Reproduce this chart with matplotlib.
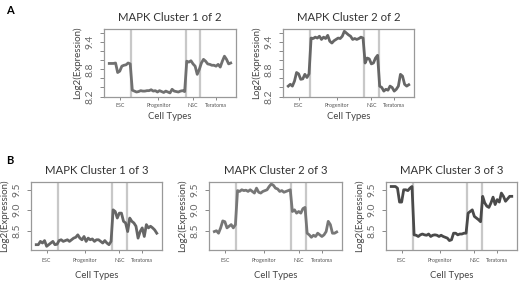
import matplotlib
matplotlib.use("Agg")
import matplotlib.pyplot as plt
import numpy as np

plt.rcParams['font.family'] = ['Lato', 'DejaVu Sans']

groups = ["ESC", "Progenitor", "NSC", "Teratoma"]
group_sizes = [11, 26, 7, 15]

a1 = [8.93, 8.93, 8.93, 8.94, 8.73, 8.76, 8.87, 8.89, 8.90, 8.94, 8.92,
      8.34, 8.32, 8.30, 8.31, 8.33, 8.32, 8.32, 8.33, 8.33, 8.35, 8.32, 8.33, 8.30,
      8.33, 8.31, 8.29, 8.32, 8.30, 8.28, 8.36, 8.32, 8.31, 8.30, 8.32, 8.33, 8.31,
      8.98, 8.96, 8.99, 8.92, 8.87, 8.69, 8.80,
      8.94, 9.02, 8.98, 8.92, 8.91, 8.89, 8.89, 8.87, 8.91, 8.85, 8.98, 9.09, 9.02, 8.92, 8.94]
a2 = [8.43, 8.47, 8.43, 8.54, 8.73, 8.70, 8.58, 8.59, 8.69, 8.62, 8.70,
      9.49, 9.48, 9.51, 9.49, 9.53, 9.46, 9.51, 9.48, 9.55, 9.42, 9.38, 9.43, 9.46,
      9.49, 9.48, 9.53, 9.64, 9.60, 9.56, 9.53, 9.46, 9.48, 9.46, 9.48, 9.51, 9.49,
      8.94, 9.05, 9.03, 8.92, 8.94, 9.05, 9.11,
      8.43, 8.40, 8.32, 8.36, 8.34, 8.43, 8.40, 8.32, 8.36, 8.43, 8.69, 8.65, 8.47, 8.43, 8.46]
b1 = [8.16, 8.16, 8.24, 8.20, 8.26, 8.12, 8.16, 8.20, 8.24, 8.16, 8.17,
      8.26, 8.28, 8.24, 8.26, 8.28, 8.24, 8.28, 8.32, 8.34, 8.40, 8.32, 8.28, 8.36,
      8.24, 8.32, 8.28, 8.30, 8.24, 8.28, 8.28, 8.24, 8.20, 8.26, 8.20, 8.16, 8.24,
      9.01, 8.97, 8.81, 8.93, 8.93, 8.73, 8.69,
      8.48, 8.81, 8.73, 8.69, 8.61, 8.32, 8.48, 8.57, 8.36, 8.65, 8.57, 8.61, 8.57, 8.52, 8.44]
b2 = [8.48, 8.50, 8.44, 8.57, 8.74, 8.72, 8.57, 8.61, 8.65, 8.57, 8.65,
      9.48, 9.46, 9.50, 9.48, 9.49, 9.46, 9.50, 9.46, 9.42, 9.54, 9.44, 9.42, 9.46,
      9.48, 9.50, 9.58, 9.64, 9.61, 9.54, 9.52, 9.46, 9.48, 9.44, 9.46, 9.48, 9.50,
      8.97, 9.01, 8.93, 8.97, 8.93, 9.04, 9.07,
      8.44, 8.40, 8.34, 8.39, 8.36, 8.44, 8.40, 8.36, 8.40, 8.48, 8.73, 8.65, 8.44, 8.44, 8.47]
b3 = [9.58, 9.58, 9.58, 9.54, 9.20, 9.20, 9.50, 9.50, 9.48, 9.54, 9.58,
      8.40, 8.39, 8.36, 8.40, 8.42, 8.40, 8.39, 8.42, 8.36, 8.39, 8.40, 8.39, 8.36,
      8.39, 8.36, 8.34, 8.32, 8.26, 8.28, 8.44, 8.44, 8.40, 8.42, 8.42, 8.44, 8.44,
      8.93, 8.97, 9.01, 8.85, 8.81, 8.77, 8.72,
      9.34, 9.18, 9.10, 9.07, 9.18, 9.32, 9.14, 9.26, 9.20, 9.42, 9.34, 9.22, 9.28, 9.34, 9.34]

titles = ["MAPK Cluster 1 of 2", "MAPK Cluster 2 of 2",
          "MAPK Cluster 1 of 3", "MAPK Cluster 2 of 3", "MAPK Cluster 3 of 3"]
series = [a1, a2, b1, b2, b3]

ticksA = [8.2, 8.4, 8.6, 8.8, 9.0, 9.2, 9.4, 9.6]
labelsA = ["8.2", "", "", "8.8", "", "", "9.4", ""]
ticksB = [8.5, 9.0, 9.5]
labelsB = ["8.5", "9.0", "9.5"]

W, H = 520, 281
boxes = [(104, 236, 29, 97), (283, 414, 29, 97),
         (31, 162, 182, 250), (209, 342, 182, 250), (386, 517, 182, 250)]
ylims = [(8.19, 9.69), (8.19, 9.69), (8.03, 9.69), (8.03, 9.69), (8.03, 9.69)]
line_colors = ["#707070", "#666666", "#666666", "#777777", "#4a4a4a"]

fig = plt.figure(figsize=(W / 100, H / 100), dpi=100)

n = sum(group_sizes)
x = np.arange(n)
bounds = np.cumsum(group_sizes)[:-1] - 0.5
starts = np.concatenate([[0], np.cumsum(group_sizes)[:-1]])
centers = starts + (np.array(group_sizes) - 1) / 2

for k, (vals, title, box, yl, lc) in enumerate(zip(series, titles, boxes, ylims, line_colors)):
    l, r, t, b = box
    ax = fig.add_axes([l / W, 1 - b / H, (r - l) / W, (b - t) / H])
    for bx in bounds:
        ax.axvline(bx, color="#c8c8c8", lw=1.6, zorder=1)
    ax.plot(x, vals, color=lc, lw=2.0, zorder=2, solid_joinstyle="round")
    pad = 0.04 * (n - 1) / 0.92
    ax.set_xlim(-pad, n - 1 + pad)
    ax.set_ylim(*yl)
    if k < 2:
        ax.set_yticks(ticksA)
        ax.set_yticklabels(labelsA)
    else:
        ax.set_yticks(ticksB)
        ax.set_yticklabels(labelsB)
    for lab in ax.get_yticklabels():
        lab.set_rotation(90)
        lab.set_va("center")
    ax.set_xticks(centers)
    ax.set_xticklabels(groups, fontsize=3.8, color="#555555")
    ax.tick_params(axis="y", labelsize=7.5, colors="#888888", labelcolor="#666666",
                   length=3, width=0.7, pad=4)
    ax.tick_params(axis="x", colors="#888888", labelcolor="#555555",
                   length=2.5, width=0.7, pad=1.5 if k < 2 else 3)
    for s in ax.spines.values():
        s.set_color("#999999")
        s.set_linewidth(0.9)
    ax.set_title(title, fontsize=8.2, color="#333333", pad=6)
    ax.set_xlabel("Cell Types", fontsize=6.8, color="#444444", labelpad=3 if k < 2 else 6)
    ax.set_ylabel("Log2(Expression)", fontsize=7, color="#444444", labelpad=2)

fig.text(6 / W, 1 - 10 / H, "A", fontsize=8, fontweight="bold", va="center", ha="left")
fig.text(6 / W, 1 - 160 / H, "B", fontsize=8, fontweight="bold", va="center", ha="left")

fig.savefig("out.png", dpi=100, facecolor="white")
